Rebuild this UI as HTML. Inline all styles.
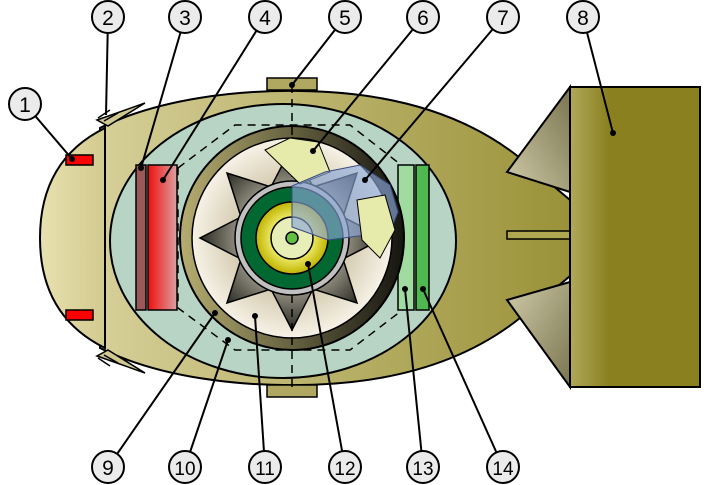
<!DOCTYPE html>
<html><head><style>html,body{margin:0;padding:0;background:#fff}svg{display:block}</style></head>
<body>
<svg width="710" height="485" viewBox="0 0 710 485" xmlns="http://www.w3.org/2000/svg" font-family="Liberation Sans, sans-serif">
<defs>
<linearGradient id="body" x1="0" x2="1"><stop offset="0" stop-color="#d6cf98"/><stop offset="1" stop-color="#9a9238"/></linearGradient>
<linearGradient id="nose" x1="0" x2="1"><stop offset="0" stop-color="#e8e1b0"/><stop offset="1" stop-color="#d2ca8e"/></linearGradient>
<linearGradient id="box" x1="0" x2="1"><stop offset="0" stop-color="#b0a85a"/><stop offset="0.3" stop-color="#8a8020"/><stop offset="1" stop-color="#8a8020"/></linearGradient>
<linearGradient id="fin" x1="0" y1="1" x2="1" y2="0"><stop offset="0" stop-color="#d0cba8"/><stop offset="1" stop-color="#7a7450"/></linearGradient>
<linearGradient id="fin2" x1="0" y1="0" x2="1" y2="1"><stop offset="0" stop-color="#d0cba8"/><stop offset="1" stop-color="#7a7450"/></linearGradient>
<linearGradient id="red" x1="0" x2="1"><stop offset="0" stop-color="#f01010"/><stop offset="1" stop-color="#dba0a0"/></linearGradient>
<linearGradient id="ring" x1="0" x2="1"><stop offset="0" stop-color="#b6ad70"/><stop offset="1" stop-color="#151510"/></linearGradient>
<radialGradient id="cream"><stop offset="0.4" stop-color="#c8bc9c"/><stop offset="1" stop-color="#f6f2e6"/></radialGradient>
<radialGradient id="spike"><stop offset="0.3" stop-color="#dcd6c4"/><stop offset="1" stop-color="#2a2a22"/></radialGradient>
<radialGradient id="yel"><stop offset="0.5" stop-color="#f4f27a"/><stop offset="1" stop-color="#c0b400"/></radialGradient>
</defs>
<!-- body -->
<path d="M100,128 C160,98 240,90 300,91 C400,92 470,118 520,158 L570,200 L570,276 L520,318 C470,358 400,384 300,385 C240,386 160,378 100,348 Z" fill="url(#body)" stroke="#000" stroke-width="2"/>
<rect x="507" y="231" width="63" height="8" fill="#b0a850" stroke="#000" stroke-width="1.5"/>
<!-- tail box & fins -->
<polygon points="570,87 507,172 570,192" fill="url(#fin)" stroke="#000" stroke-width="2"/>
<polygon points="570,387 507,300 570,282" fill="url(#fin2)" stroke="#000" stroke-width="2"/>
<rect x="570" y="87" width="130" height="300" fill="url(#box)" stroke="#000" stroke-width="2"/>
<!-- nose -->
<path d="M97,120 L145,103 L108,126 Z M97,356 L145,373 L108,350 Z" fill="#cfc890" stroke="#000" stroke-width="1.5"/>
<path d="M105,128 Q40,160 40,238 Q40,316 105,348 Z" fill="url(#nose)" stroke="#000" stroke-width="2"/>
<line x1="105" y1="125" x2="105" y2="330" stroke="#000" stroke-width="2"/>
<g stroke="#000" stroke-width="1.5"><line x1="98" y1="118" x2="110" y2="110"/><line x1="104" y1="121" x2="118" y2="113"/><line x1="98" y1="358" x2="110" y2="366"/><line x1="104" y1="355" x2="118" y2="363"/></g>
<rect x="66" y="155" width="27" height="10" fill="#f00" stroke="#000" stroke-width="1.5"/>
<rect x="66" y="310" width="27" height="10" fill="#f00" stroke="#000" stroke-width="1.5"/>
<!-- inner ellipse -->
<ellipse cx="283" cy="241" rx="173" ry="137" fill="#b8d4c4" stroke="#000" stroke-width="2"/>
<polygon points="178,168 235,125 350,125 405,168 405,308 350,350 235,350 178,308" fill="none" stroke="#000" stroke-width="1.5" stroke-dasharray="8,6"/>
<rect x="267" y="78" width="50" height="12" fill="#b0a860" stroke="#000" stroke-width="1.5"/>
<rect x="267" y="385" width="50" height="12" fill="#b0a860" stroke="#000" stroke-width="1.5"/>
<rect x="136" y="165" width="10" height="145" fill="#9a5858" stroke="#000" stroke-width="1.5"/>
<rect x="148" y="165" width="29" height="145" fill="url(#red)" stroke="#000" stroke-width="1.5"/>
<rect x="398" y="165" width="16" height="145" fill="#a0dca0" stroke="#000" stroke-width="1.5"/>
<rect x="416" y="165" width="13" height="145" fill="#50b850" stroke="#000" stroke-width="1.5"/>
<!-- sphere -->
<circle cx="292" cy="238" r="112" fill="url(#ring)" stroke="#000" stroke-width="2"/>
<circle cx="292" cy="238" r="100" fill="url(#cream)" stroke="#000" stroke-width="1.5"/>
<polygon points="292,146 313,187 357,173 343,217 384,238 343,259 357,303 313,289 292,330 271,289 227,303 241,259 200,238 241,217 227,173 271,187" fill="url(#spike)" stroke="#000" stroke-width="1.5"/>
<line x1="292" y1="85" x2="292" y2="392" stroke="#000" stroke-width="1.5" stroke-dasharray="8,6"/>
<circle cx="292" cy="238" r="57" fill="#c0c0c0" stroke="#000" stroke-width="1.5"/>
<circle cx="292" cy="238" r="51" fill="#006830" stroke="#000" stroke-width="1.5"/>
<circle cx="292" cy="238" r="36" fill="url(#yel)" stroke="#000" stroke-width="1.5"/>
<circle cx="292" cy="238" r="21" fill="#e8eeb8" stroke="#000" stroke-width="1.5"/>
<polygon points="265,150 290,138 318,142 330,172 300,184" fill="#e6eaaa" stroke="#000" stroke-width="1"/>
<path d="M292,186 L325,172 L360,165 L390,185 L398,212 L390,232 L328,240 L292,227 Z" fill="#8aa8d8" fill-opacity="0.65" stroke="#3a4a80" stroke-width="1"/>
<polygon points="357,200 385,195 395,230 380,258 362,240" fill="#e6eaaa" stroke="#000" stroke-width="1"/>
<circle cx="292" cy="238" r="6" fill="#60c040" stroke="#000" stroke-width="1.5"/>
<!-- leaders -->
<g stroke="#000" stroke-width="2" fill="none">
<line x1="25" y1="104" x2="72" y2="159"/><line x1="108" y1="17" x2="106" y2="115"/>
<line x1="185" y1="17" x2="141" y2="168"/><line x1="265" y1="17" x2="163" y2="180"/>
<line x1="345" y1="17" x2="292" y2="85"/><line x1="423" y1="17" x2="313" y2="151"/>
<line x1="503" y1="17" x2="365" y2="180"/><line x1="583" y1="17" x2="613" y2="133"/>
<line x1="108" y1="467" x2="215" y2="313"/><line x1="185" y1="467" x2="228" y2="340"/>
<line x1="265" y1="467" x2="255" y2="316"/><line x1="345" y1="467" x2="308" y2="264"/>
<line x1="423" y1="467" x2="405" y2="289"/><line x1="503" y1="467" x2="423" y2="289"/>
</g>
<g fill="#000"><circle cx="72" cy="159" r="3"/><circle cx="141" cy="168" r="3"/><circle cx="163" cy="180" r="3"/><circle cx="292" cy="85" r="3"/><circle cx="313" cy="151" r="3"/><circle cx="365" cy="180" r="3"/><circle cx="613" cy="133" r="3"/><circle cx="215" cy="313" r="3"/><circle cx="228" cy="340" r="3"/><circle cx="255" cy="316" r="3"/><circle cx="308" cy="264" r="3"/><circle cx="405" cy="289" r="3"/><circle cx="423" cy="289" r="3"/></g>
<g fill="#ebebeb" stroke="#000" stroke-width="2">
<circle cx="25" cy="104" r="16"/><circle cx="108" cy="17" r="16"/><circle cx="185" cy="17" r="16"/><circle cx="265" cy="17" r="16"/><circle cx="345" cy="17" r="16"/><circle cx="423" cy="17" r="16"/><circle cx="503" cy="17" r="16"/><circle cx="583" cy="17" r="16"/>
<circle cx="108" cy="467" r="16"/><circle cx="185" cy="467" r="16"/><circle cx="265" cy="467" r="16"/><circle cx="345" cy="467" r="16"/><circle cx="423" cy="467" r="16"/><circle cx="503" cy="467" r="16"/>
</g>
<g font-size="21" text-anchor="middle" fill="#000">
<text x="25" y="112">1</text><text x="108" y="25">2</text><text x="185" y="25">3</text><text x="265" y="25">4</text><text x="345" y="25">5</text><text x="423" y="25">6</text><text x="503" y="25">7</text><text x="583" y="25">8</text>
<text x="108" y="475">9</text><text x="185" y="475" font-size="19">10</text><text x="265" y="475" font-size="19">11</text><text x="345" y="475" font-size="19">12</text><text x="423" y="475" font-size="19">13</text><text x="503" y="475" font-size="19">14</text>
</g>
</svg>
</body></html>
